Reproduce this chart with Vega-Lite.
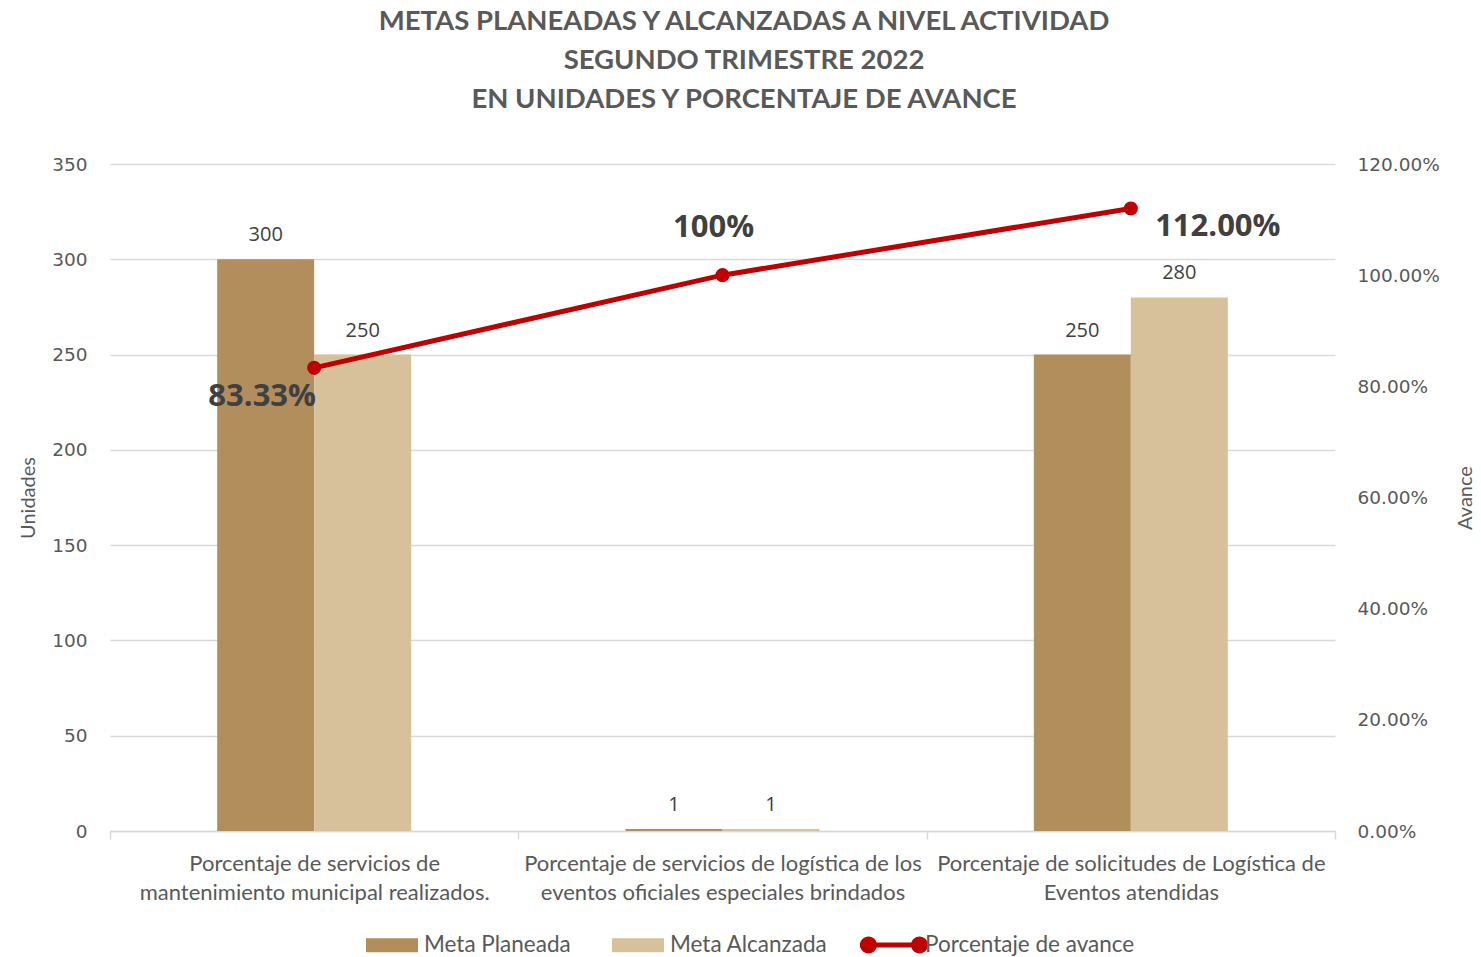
{
  "$schema": "https://vega.github.io/schema/vega-lite/v6.json",
  "width": 1225,
  "height": 667,
  "autosize": {"type": "none"},
  "padding": {"left": 110, "top": 164, "right": 146, "bottom": 126},
  "background": "white",
  "config": {"view": {"stroke": null}, "font": "Lato"},
  "title": {
    "text": ["METAS PLANEADAS Y ALCANZADAS A NIVEL ACTIVIDAD", "SEGUNDO TRIMESTRE 2022", "EN UNIDADES Y PORCENTAJE DE AVANCE"],
    "font": "Lato",
    "fontSize": 27.5,
    "fontWeight": "bold",
    "color": "#595959",
    "lineHeight": 39,
    "frame": "bounds",
    "anchor": "middle",
    "dx": -3,
    "offset": 42
  },
  "datasets": {
    "metas": [
      {"cat": "Porcentaje de servicios de mantenimiento municipal realizados.", "serie": "Meta Planeada", "valor": 300},
      {"cat": "Porcentaje de servicios de mantenimiento municipal realizados.", "serie": "Meta Alcanzada", "valor": 250},
      {"cat": "Porcentaje de servicios de logística de los eventos oficiales especiales brindados", "serie": "Meta Planeada", "valor": 1},
      {"cat": "Porcentaje de servicios de logística de los eventos oficiales especiales brindados", "serie": "Meta Alcanzada", "valor": 1},
      {"cat": "Porcentaje de solicitudes de Logística de Eventos atendidas", "serie": "Meta Planeada", "valor": 250},
      {"cat": "Porcentaje de solicitudes de Logística de Eventos atendidas", "serie": "Meta Alcanzada", "valor": 280}
    ],
    "avance": [
      {"cat": "Porcentaje de servicios de mantenimiento municipal realizados.", "avance": 0.8333, "etiqueta": "83.33%"},
      {"cat": "Porcentaje de servicios de logística de los eventos oficiales especiales brindados", "avance": 1.0, "etiqueta": "100%"},
      {"cat": "Porcentaje de solicitudes de Logística de Eventos atendidas", "avance": 1.12, "etiqueta": "112.00%"}
    ]
  },
  "encoding": {
    "x": {
      "field": "cat",
      "type": "nominal",
      "sort": null,
      "scale": {"paddingInner": 0, "paddingOuter": 0},
      "axis": {
        "title": null,
        "labelAngle": 0,
        "labelFont": "Lato",
        "labelFontSize": 22,
        "labelColor": "#595959",
        "labelLineHeight": 29,
        "labelBaseline": "top",
        "labelPadding": 14,
        "labelLimit": 0,
        "domainColor": "#D9D9D9",
        "domainWidth": 1.5,
        "tickColor": "#D9D9D9",
        "tickWidth": 1.5,
        "tickSize": 8,
        "tickBand": "extent",
        "grid": false,
        "labelExpr": "datum.value == 'Porcentaje de servicios de mantenimiento municipal realizados.' ? ['Porcentaje de servicios de', 'mantenimiento municipal realizados.'] : datum.value == 'Porcentaje de servicios de logística de los eventos oficiales especiales brindados' ? ['Porcentaje de servicios de logística de los', 'eventos oficiales especiales brindados'] : datum.value == 'Porcentaje de solicitudes de Logística de Eventos atendidas' ? ['Porcentaje de solicitudes de Logística de', 'Eventos atendidas'] : ''"
      }
    }
  },
  "layer": [
    {
      "data": {"name": "metas"},
      "encoding": {
        "xOffset": {
          "field": "serie",
          "type": "nominal",
          "scale": {"domain": [" ", "Meta Planeada", "Meta Alcanzada", "  "], "paddingInner": 0, "paddingOuter": 0.105}
        },
        "y": {
          "field": "valor",
          "type": "quantitative",
          "scale": {"domain": [0, 350]},
          "axis": {
            "title": "Unidades",
            "titleFont": "Lato",
            "titleFontSize": 20,
            "titleFontWeight": "normal",
            "titleColor": "#595959",
            "titlePadding": 13,
            "values": [0, 50, 100, 150, 200, 250, 300, 350],
            "labelFont": "DejaVu Sans",
            "labelFontSize": 18.5,
            "labelColor": "#595959",
            "labelPadding": 23,
            "domain": false,
            "ticks": false,
            "gridColor": "#D9D9D9",
            "gridWidth": 1.5
          }
        }
      },
      "layer": [
        {
          "mark": {"type": "bar"},
          "encoding": {
            "color": {
              "field": "serie",
              "type": "nominal",
              "scale": {"domain": ["Meta Planeada", "Meta Alcanzada"], "range": ["#B38E5D", "#D6C19A"]},
              "legend": {
                "title": null,
                "orient": "none",
                "direction": "horizontal",
                "legendX": 256,
                "legendY": 755,
                "symbolType": "M-1,-0.27H1V0.27H-1Z",
                "symbolSize": 2704,
                "symbolStrokeWidth": 0,
                "labelFont": "Lato",
                "labelFontSize": 22.5,
                "labelColor": "#595959",
                "labelOffset": 6,
                "labelLimit": 0,
                "columnPadding": 41,
                "padding": 0
              }
            }
          }
        },
        {
          "mark": {"type": "text", "font": "Open Sans", "fontSize": 20, "color": "#404040", "baseline": "alphabetic", "dy": -18},
          "encoding": {"text": {"field": "valor", "type": "quantitative"}}
        }
      ]
    },
    {
      "data": {"name": "avance"},
      "encoding": {
        "y": {
          "field": "avance",
          "type": "quantitative",
          "scale": {"domain": [0, 1.2]},
          "axis": {
            "orient": "right",
            "title": "Avance",
            "titleAngle": 270,
            "titleFont": "Lato",
            "titleFontSize": 20,
            "titleFontWeight": "normal",
            "titleColor": "#595959",
            "titlePadding": 36,
            "values": [0, 0.2, 0.4, 0.6, 0.8, 1.0, 1.2],
            "format": ".2%",
            "labelFont": "DejaVu Sans",
            "labelFontSize": 18.5,
            "labelColor": "#595959",
            "labelPadding": 22,
            "domain": false,
            "ticks": false,
            "grid": false
          }
        }
      },
      "layer": [
        {
          "mark": {"type": "line", "strokeWidth": 5},
          "encoding": {
            "stroke": {
              "datum": "Porcentaje de avance",
              "scale": {"range": ["#C00000"]},
              "legend": {
                "title": null,
                "orient": "none",
                "direction": "horizontal",
                "legendX": 750,
                "legendY": 747,
                "symbolType": "M-1,-0.075H1V0.075H-1Z M-1,0 A0.25,0.25 0 1,1 -0.5,0 A0.25,0.25 0 1,1 -1,0 Z M0.5,0 A0.25,0.25 0 1,1 1,0 A0.25,0.25 0 1,1 0.5,0 Z",
                "symbolSize": 4624,
                "symbolFillColor": "#C00000",
                "symbolStrokeWidth": 0,
                "labelFont": "Lato",
                "labelFontSize": 22.5,
                "labelColor": "#595959",
                "labelOffset": -3,
                "labelLimit": 0,
                "padding": 0
              }
            }
          }
        },
        {
          "mark": {"type": "point", "filled": true, "size": 200, "color": "#C00000", "opacity": 1}
        },
        {
          "transform": [{"filter": "datum.etiqueta == '83.33%'"}],
          "mark": {"type": "text", "font": "Open Sans", "fontSize": 31, "fontWeight": "bold", "color": "#404040", "baseline": "alphabetic", "dx": -52, "dy": 38},
          "encoding": {"text": {"field": "etiqueta"}}
        },
        {
          "transform": [{"filter": "datum.etiqueta == '100%'"}],
          "mark": {"type": "text", "font": "Open Sans", "fontSize": 31, "fontWeight": "bold", "color": "#404040", "baseline": "alphabetic", "dx": -9, "dy": -38},
          "encoding": {"text": {"field": "etiqueta"}}
        },
        {
          "transform": [{"filter": "datum.etiqueta == '112.00%'"}],
          "mark": {"type": "text", "font": "Open Sans", "fontSize": 31, "fontWeight": "bold", "color": "#404040", "baseline": "alphabetic", "dx": 87, "dy": 28},
          "encoding": {"text": {"field": "etiqueta"}}
        }
      ]
    }
  ],
  "resolve": {"scale": {"y": "independent"}}
}
